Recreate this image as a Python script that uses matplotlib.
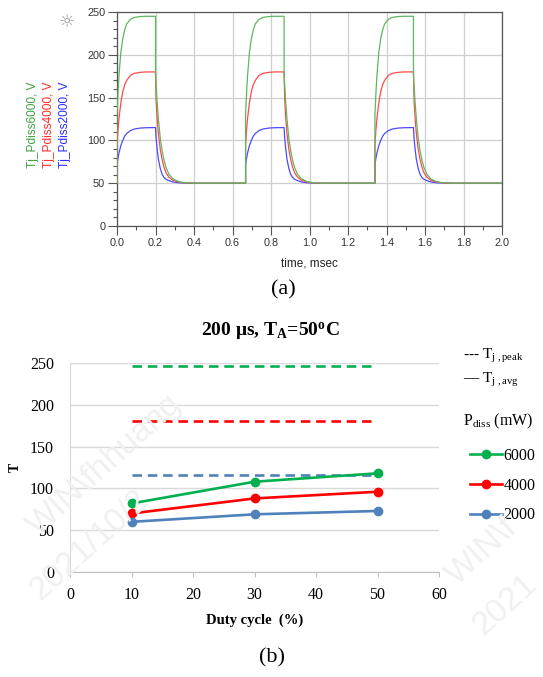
import numpy as np
import matplotlib
matplotlib.use("Agg")
import matplotlib.pyplot as plt
from matplotlib.ticker import MultipleLocator, FormatStrFormatter

plt.rcParams["mathtext.fontset"] = "custom"
plt.rcParams["mathtext.rm"] = "Liberation Serif"
plt.rcParams["mathtext.bf"] = "Liberation Serif:bold"
plt.rcParams["mathtext.it"] = "Liberation Serif:italic"

# ---------------------------------------------------------------- data (a)
T_AMB = 50
PULSE_START = [0.0, 0.668, 1.340]   # msec
PULSE_WIDTH = 0.2
T_END = 2.0

RISE_DT = [0, 0.005, 0.01, 0.02, 0.03, 0.04, 0.05, 0.07, 0.09, 0.12, 0.15, 0.2]
RISE_6000 = [130, 155, 175, 203, 219, 229, 236, 241.5, 243.7, 244.7, 245, 245]
RISE_4000 = [95, 112, 125, 144, 157, 165, 170, 176, 178.3, 179.5, 180, 180]
RISE_2000 = [72, 79, 85, 94, 100, 105, 108, 111.5, 113.3, 114.4, 114.8, 115]

FALL_DT = [0, 0.003, 0.008, 0.015, 0.025, 0.035, 0.045, 0.055, 0.07, 0.09, 0.12, 0.15, 0.2]
FALL_6000 = [178, 165, 146, 125, 102, 87, 76, 68, 60.5, 55, 51.8, 50.6, 50]
FALL_4000 = [180, 148, 128, 108, 89, 77, 68, 62, 57, 53.5, 51.3, 50.4, 50]
FALL_2000 = [115, 103, 91, 78, 67, 60, 56.5, 54.5, 53, 51.5, 50.5, 50.2, 50]

# ---------------------------------------------------------------- data (b)
DUTY = [10, 30, 50]
AVG_6000 = [82, 108, 118]
AVG_4000 = [70, 88, 96]
AVG_2000 = [60, 69, 73]
PEAK_X = [10, 49]
PEAK_6000 = 246
PEAK_4000 = 181
PEAK_2000 = 116

ADS = {"6000": "#5cb85c", "4000": "#ff4a4a", "2000": "#4a4aff"}
ADS_TXT = {"6000": "#3fa03f", "4000": "#ff2a2a", "2000": "#2a2aff"}
XL = {"6000": "#00b050", "4000": "#ff0000", "2000": "#4f81bd"}
SERIF = "Liberation Serif"
SANS = "Liberation Sans"


def waveform(rise, fall):
    t, v = [0.0], [T_AMB]
    for s in PULSE_START:
        t += [s]
        v += [T_AMB]
        t += [s + d for d in RISE_DT]
        v += list(rise)
        t += [s + PULSE_WIDTH + d for d in FALL_DT]
        v += list(fall)
    t += [T_END]
    v += [T_AMB]
    return np.array(t), np.array(v)


fig = plt.figure(figsize=(5.43, 6.77), dpi=100)
fig.patch.set_facecolor("white")

# watermark (faint, behind everything)
for x, y, txt in ((105, 465, "WIN\\fhhuang"), (90, 545, "2021/10/2"),
                  (482, 552, "WIN\\f"), (505, 605, "2021")):
    fig.text(x / 543, 1 - y / 677, txt, rotation=42, ha="center", va="center",
             fontsize=24, color="#f0f0f0", family=SANS, zorder=0)

# ------------------------------------------------------------- (a) ADS plot
ax1 = fig.add_axes([117 / 543, 1 - 226 / 677, 385 / 543, 214 / 677])
for key, rise, fall in (("2000", RISE_2000, FALL_2000),
                        ("4000", RISE_4000, FALL_4000),
                        ("6000", RISE_6000, FALL_6000)):
    t, v = waveform(rise, fall)
    ax1.plot(t, v, color=ADS[key], lw=0.9, zorder=3)
ax1.set_xlim(0, 2.0)
ax1.set_ylim(0, 250)
ax1.set_xticks(np.arange(0, 2.01, 0.2))
ax1.xaxis.set_major_formatter(FormatStrFormatter("%.1f"))
ax1.xaxis.set_minor_locator(MultipleLocator(0.1))
ax1.set_yticks(np.arange(0, 251, 50))
ax1.yaxis.set_minor_locator(MultipleLocator(10))
ax1.grid(which="major", color="#cfcfcf", lw=0.9)
ax1.set_axisbelow(True)
for s in ax1.spines.values():
    s.set_color("#555555")
    s.set_linewidth(0.9)
ax1.tick_params(which="major", direction="out", length=6.5, width=0.8,
                color="#555555", labelsize=7.8, labelcolor="#333333", pad=2)
ax1.tick_params(which="minor", direction="out", length=3, width=0.8, color="#555555")
for lab in ax1.get_xticklabels() + ax1.get_yticklabels():
    lab.set_family(SANS)
ax1.set_xlabel("time, msec", fontsize=8.5, family=SANS, color="#222222", labelpad=7)

for xc, key in ((33, "6000"), (49, "4000"), (65, "2000")):
    fig.text(xc / 543, 1 - 125 / 677, f"Tj_Pdiss{key}, V", rotation=90,
             ha="center", va="center", fontsize=8.6, family=SANS, color=ADS_TXT[key])
fig.text(67 / 543, 1 - 22 / 677, "☼", ha="center", va="center", fontsize=13,
         color="#9a9a9a", family="DejaVu Sans")
fig.text(283 / 543, 1 - 290 / 677, "(a)", ha="center", va="center",
         fontsize=16, family=SERIF)

# ------------------------------------------------------------- (b) Excel chart
ax2 = fig.add_axes([70 / 543, 1 - 572 / 677, 369 / 543, 209 / 677])
ax2.patch.set_alpha(0)
for key, peak in (("6000", PEAK_6000), ("4000", PEAK_4000), ("2000", PEAK_2000)):
    ax2.plot(PEAK_X, [peak, peak], color=XL[key], lw=1.9,
             linestyle=(0, (3.6, 2.2)), zorder=3)
handles = []
for key, avg in (("6000", AVG_6000), ("4000", AVG_4000), ("2000", AVG_2000)):
    h, = ax2.plot(DUTY, avg, color=XL[key], lw=1.9, marker="o", markersize=6,
                  zorder=4, label=key)
    handles.append(h)
ax2.set_xlim(0, 60)
ax2.set_ylim(0, 250)
ax2.set_xticks(np.arange(0, 61, 10))
ax2.set_yticks(np.arange(0, 251, 50))
ax2.grid(axis="y", color="#d9d9d9", lw=1.0)
ax2.set_axisbelow(True)
for s in ("top", "right"):
    ax2.spines[s].set_visible(False)
ax2.spines["left"].set_color("#d9d9d9")
ax2.spines["bottom"].set_color("#bfbfbf")
ax2.tick_params(axis="x", direction="out", length=3.5, color="#bfbfbf", pad=7)
ax2.tick_params(axis="y", length=0, pad=11.5)
ax2.tick_params(labelsize=11.5)
for lab in ax2.get_xticklabels() + ax2.get_yticklabels():
    lab.set_family(SERIF)
ax2.set_xlabel("Duty cycle  (%)", fontsize=10.5, family=SERIF, fontweight="bold",
               labelpad=8)
fig.text(15 / 543, 1 - 467 / 677, "T", rotation=90, ha="center", va="center",
         fontsize=10, family=SERIF, fontweight="bold")
fig.text(270 / 543, 1 - 331 / 677, r"200 μs, T$_{\mathbf{A}}$=50$^{\mathbf{o}}$C",
         ha="center", va="center", fontsize=14, family=SERIF, fontweight="bold")

fig.text(463 / 543, 1 - 356 / 677, r"--- T$_{\mathrm{j\ ,peak}}$", ha="left",
         va="center", fontsize=11, family=SERIF)
fig.text(463 / 543, 1 - 380 / 677, r"— T$_{\mathrm{j\ ,avg}}$", ha="left",
         va="center", fontsize=11, family=SERIF)
fig.text(463 / 543, 1 - 421 / 677, r"P$_{\mathrm{diss}}$ (mW)", ha="left",
         va="center", fontsize=11.5, family=SERIF)
ax2.legend(handles=handles, loc="upper left", bbox_to_anchor=(462 / 543, 1 - 440 / 677),
           bbox_transform=fig.transFigure, frameon=False, handlelength=2.0,
           handletextpad=0.1, labelspacing=0.85, borderpad=0,
           prop={"family": SERIF, "size": 11.5})

fig.text(272 / 543, 1 - 658 / 677, "(b)", ha="center", va="center",
         fontsize=16, family=SERIF)

fig.savefig("out.png", dpi=100)
